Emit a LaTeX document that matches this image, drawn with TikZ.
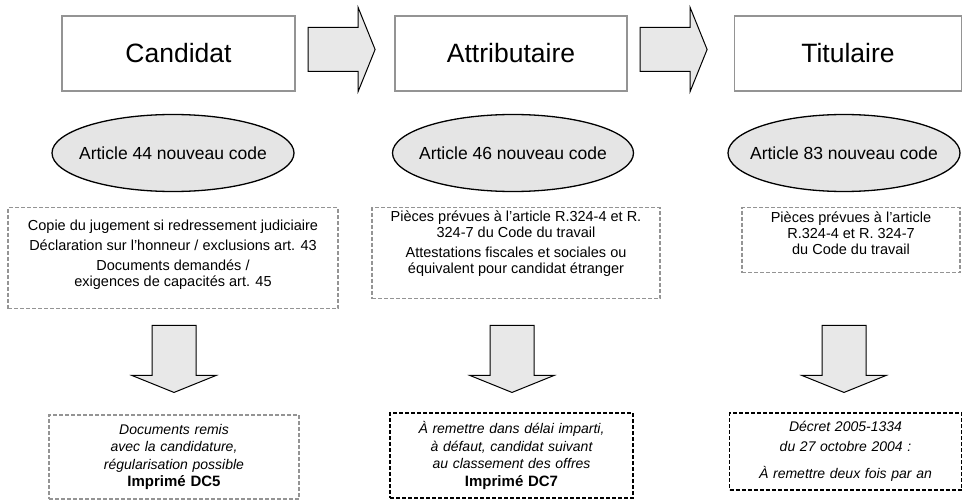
\documentclass[tikz,border=0pt]{standalone}
\usepackage{fontspec}
\setmainfont{Liberation Sans}
\usetikzlibrary{shapes.geometric, shapes.arrows, positioning}

\begin{document}
\begin{tikzpicture}[
    x=1pt, y=-1pt,
    etape/.style={rectangle, draw=black!42, line width=1.2pt, minimum height=75pt, font=\fontsize{26.5}{30}\selectfont},
    article/.style={ellipse, draw=black, line width=1.3pt, fill=black!10, minimum height=77pt, inner sep=0pt, font=\fontsize{17.5}{20}\selectfont},
    pieces/.style={rectangle, draw=black!42, line width=1.2pt, dash pattern=on 4pt off 2pt, anchor=north},
    texte/.style={align=center, inner sep=0pt, anchor=north, font=\fontsize{14.5}{16}\selectfont},
    remise/.style={rectangle, draw=black!42, line width=1.2pt, dash pattern=on 4pt off 2pt, align=center, inner sep=0pt, font=\fontsize{14}{17.5}\selectfont\itshape},
    fleche/.style={single arrow, draw=black, line width=1pt, fill=black!9, minimum height=67pt, inner sep=21.5pt, single arrow head extend=20pt, single arrow tip angle=136}
]

\useasboundingbox (0,0) rectangle (963,500);

   % Steps of the procedure
   \node[etape, minimum width=233pt] (cand) at (178.5,53.5) {Candidat};
   \node[etape, minimum width=232pt] (attr) at (511,53.5) {Attributaire};
   \node[etape, minimum width=227pt] (titu) at (848,53.5) {Titulaire};

   \node[fleche, right=12pt of cand, yshift=4pt] (a1) {};
   \node[fleche, right=12pt of attr, yshift=4pt] (a2) {};

   % Articles
   \node[article, minimum width=242pt] (art44) at (173,153) {\makebox[0pt]{Article 44 nouveau code}};
   \node[article, minimum width=241pt] (art46) at (513,153) {\makebox[0pt]{Article 46 nouveau code}};
   \node[article, minimum width=232pt] (art83) at (844,153) {\makebox[0pt]{Article 83 nouveau code}};

   % Documents to supply
   \node[pieces, minimum width=330pt, minimum height=101pt] (pieces44) at (173,207) {};
   \node[texte, below=13pt of pieces44.north] (txt44) {Copie du jugement si redressement judiciaire\\[4pt]
      Déclaration sur l’honneur / exclusions art. 43\\[4pt]
      Documents demandés /\\exigences de capacités art. 45};

   \node[pieces, minimum width=288pt, minimum height=91pt] (pieces46) at (516,207) {};
   \node[texte, below=4pt of pieces46.north] (txt46) {Pièces prévues à l’article R.324-4 et R.\\324-7 du Code du travail\\[4pt]
      Attestations fiscales et sociales ou\\équivalent pour candidat étranger};

   \node[pieces, minimum width=218pt, minimum height=65pt] (pieces83) at (851,207) {};
   \node[texte, below=5pt of pieces83.north] (txt83) {Pièces prévues à l’article\\R.324-4 et R. 324-7\\du Code du travail};

   % Down arrows
   \node[fleche, shape border rotate=270] (d1) at (174,354.5) {};
   \node[fleche, shape border rotate=270] (d2) at (512,354.5) {};
   \node[fleche, shape border rotate=270] (d3) at (844,354.5) {};

   % When to hand them in
   \node[remise, text width=250pt, minimum height=84pt] (dc5) at (174,457) {Documents remis\\avec la candidature,\\régularisation possible\\
      {\upshape\bfseries\fontsize{15}{17.5}\selectfont Imprimé DC5}};
   \node[remise, draw=black, line width=1.5pt, text width=243pt, minimum height=85pt] (dc7) at (511.5,455.5) {À remettre dans délai imparti,\\à défaut, candidat suivant\\au classement des offres\\
      {\upshape\bfseries\fontsize{15}{17.5}\selectfont Imprimé DC7}};
   \node[remise, draw=black, line width=1.5pt, text width=232pt, minimum height=77pt] (decret) at (845.5,451.5) {Décret 2005-1334\\[2pt]du 27 octobre 2004 :\\[10pt]À remettre deux fois par an};

\end{tikzpicture}
\end{document}
